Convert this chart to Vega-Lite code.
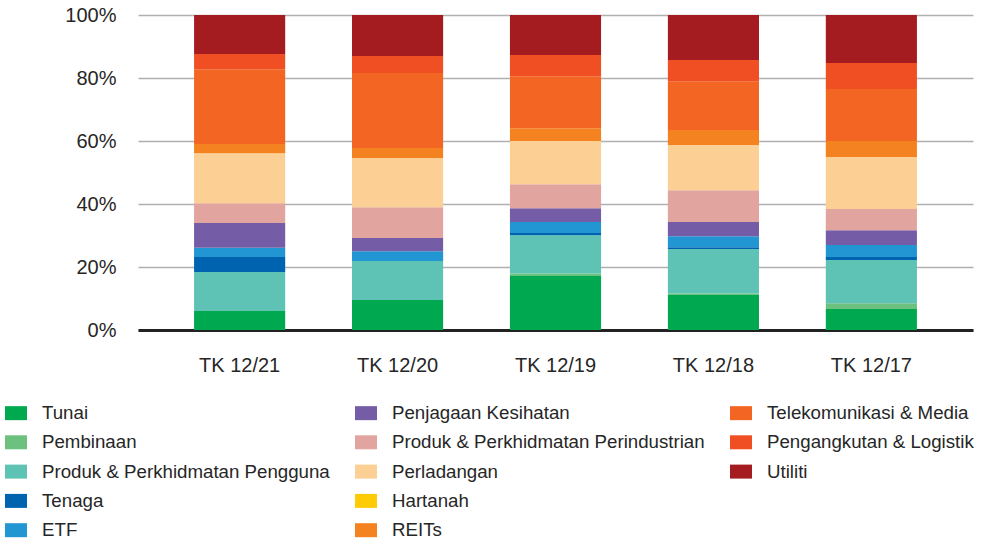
{
  "$schema": "https://vega.github.io/schema/vega-lite/v6.json",
  "width": 835,
  "height": 315,
  "autosize": {"type": "none"},
  "padding": {"left": 138, "top": 15, "right": 13, "bottom": 210},
  "background": "white",
  "config": {
    "font": "Liberation Sans",
    "view": {"stroke": null}
  },
  "data": {
    "values": [
      {"period": "TK 12/21", "sector": "Tunai", "k": 1, "value": 6.0},
      {"period": "TK 12/21", "sector": "Produk & Perkhidmatan Pengguna", "k": 3, "value": 12.4},
      {"period": "TK 12/21", "sector": "Tenaga", "k": 4, "value": 4.8},
      {"period": "TK 12/21", "sector": "ETF", "k": 5, "value": 2.9},
      {"period": "TK 12/21", "sector": "Penjagaan Kesihatan", "k": 6, "value": 7.9},
      {"period": "TK 12/21", "sector": "Produk & Perkhidmatan Perindustrian", "k": 7, "value": 6.3},
      {"period": "TK 12/21", "sector": "Perladangan", "k": 8, "value": 15.9},
      {"period": "TK 12/21", "sector": "REITs", "k": 10, "value": 2.9},
      {"period": "TK 12/21", "sector": "Telekomunikasi & Media", "k": 11, "value": 23.8},
      {"period": "TK 12/21", "sector": "Pengangkutan & Logistik", "k": 12, "value": 4.8},
      {"period": "TK 12/21", "sector": "Utiliti", "k": 13, "value": 12.4},

      {"period": "TK 12/20", "sector": "Tunai", "k": 1, "value": 9.5},
      {"period": "TK 12/20", "sector": "Produk & Perkhidmatan Pengguna", "k": 3, "value": 12.4},
      {"period": "TK 12/20", "sector": "ETF", "k": 5, "value": 3.1},
      {"period": "TK 12/20", "sector": "Penjagaan Kesihatan", "k": 6, "value": 4.2},
      {"period": "TK 12/20", "sector": "Produk & Perkhidmatan Perindustrian", "k": 7, "value": 9.8},
      {"period": "TK 12/20", "sector": "Perladangan", "k": 8, "value": 15.6},
      {"period": "TK 12/20", "sector": "REITs", "k": 10, "value": 3.2},
      {"period": "TK 12/20", "sector": "Telekomunikasi & Media", "k": 11, "value": 23.8},
      {"period": "TK 12/20", "sector": "Pengangkutan & Logistik", "k": 12, "value": 5.4},
      {"period": "TK 12/20", "sector": "Utiliti", "k": 13, "value": 13.0},

      {"period": "TK 12/19", "sector": "Tunai", "k": 1, "value": 17.1},
      {"period": "TK 12/19", "sector": "Pembinaan", "k": 2, "value": 0.85},
      {"period": "TK 12/19", "sector": "Produk & Perkhidmatan Pengguna", "k": 3, "value": 12.1},
      {"period": "TK 12/19", "sector": "Tenaga", "k": 4, "value": 0.7},
      {"period": "TK 12/19", "sector": "ETF", "k": 5, "value": 3.5},
      {"period": "TK 12/19", "sector": "Penjagaan Kesihatan", "k": 6, "value": 4.4},
      {"period": "TK 12/19", "sector": "Produk & Perkhidmatan Perindustrian", "k": 7, "value": 7.6},
      {"period": "TK 12/19", "sector": "Perladangan", "k": 8, "value": 13.7},
      {"period": "TK 12/19", "sector": "REITs", "k": 10, "value": 4.1},
      {"period": "TK 12/19", "sector": "Telekomunikasi & Media", "k": 11, "value": 16.5},
      {"period": "TK 12/19", "sector": "Pengangkutan & Logistik", "k": 12, "value": 6.7},
      {"period": "TK 12/19", "sector": "Utiliti", "k": 13, "value": 12.7},

      {"period": "TK 12/18", "sector": "Tunai", "k": 1, "value": 11.1},
      {"period": "TK 12/18", "sector": "Pembinaan", "k": 2, "value": 0.5},
      {"period": "TK 12/18", "sector": "Produk & Perkhidmatan Pengguna", "k": 3, "value": 14.1},
      {"period": "TK 12/18", "sector": "Tenaga", "k": 4, "value": 0.6},
      {"period": "TK 12/18", "sector": "ETF", "k": 5, "value": 3.5},
      {"period": "TK 12/18", "sector": "Penjagaan Kesihatan", "k": 6, "value": 4.5},
      {"period": "TK 12/18", "sector": "Produk & Perkhidmatan Perindustrian", "k": 7, "value": 10.1},
      {"period": "TK 12/18", "sector": "Perladangan", "k": 8, "value": 14.3},
      {"period": "TK 12/18", "sector": "REITs", "k": 10, "value": 4.8},
      {"period": "TK 12/18", "sector": "Telekomunikasi & Media", "k": 11, "value": 15.5},
      {"period": "TK 12/18", "sector": "Pengangkutan & Logistik", "k": 12, "value": 6.7},
      {"period": "TK 12/18", "sector": "Utiliti", "k": 13, "value": 14.3},

      {"period": "TK 12/17", "sector": "Tunai", "k": 1, "value": 6.7},
      {"period": "TK 12/17", "sector": "Pembinaan", "k": 2, "value": 1.8},
      {"period": "TK 12/17", "sector": "Produk & Perkhidmatan Pengguna", "k": 3, "value": 13.7},
      {"period": "TK 12/17", "sector": "Tenaga", "k": 4, "value": 1.0},
      {"period": "TK 12/17", "sector": "ETF", "k": 5, "value": 3.8},
      {"period": "TK 12/17", "sector": "Penjagaan Kesihatan", "k": 6, "value": 4.7},
      {"period": "TK 12/17", "sector": "Produk & Perkhidmatan Perindustrian", "k": 7, "value": 6.7},
      {"period": "TK 12/17", "sector": "Perladangan", "k": 8, "value": 16.5},
      {"period": "TK 12/17", "sector": "REITs", "k": 10, "value": 5.1},
      {"period": "TK 12/17", "sector": "Telekomunikasi & Media", "k": 11, "value": 16.5},
      {"period": "TK 12/17", "sector": "Pengangkutan & Logistik", "k": 12, "value": 8.3},
      {"period": "TK 12/17", "sector": "Utiliti", "k": 13, "value": 15.2}
    ]
  },
  "mark": {"type": "bar"},
  "encoding": {
    "x": {
      "field": "period",
      "type": "nominal",
      "sort": ["TK 12/21", "TK 12/20", "TK 12/19", "TK 12/18", "TK 12/17"],
      "scale": {"paddingInner": 0.423, "paddingOuter": 0.355},
      "axis": {
        "title": null,
        "labelAngle": 0,
        "labelFontSize": 20,
        "labelColor": "#262626",
        "labelPadding": 25,
        "ticks": false,
        "domain": true,
        "domainColor": "#222222",
        "domainWidth": 3
      }
    },
    "y": {
      "field": "value",
      "type": "quantitative",
      "stack": "normalize",
      "scale": {"domain": [0, 1], "nice": false},
      "axis": {
        "title": null,
        "format": ".0%",
        "values": [0, 0.2, 0.4, 0.6, 0.8, 1],
        "labelFontSize": 20,
        "labelColor": "#262626",
        "labelPadding": 22,
        "ticks": false,
        "domain": false,
        "gridColor": "#b0b0b0",
        "gridWidth": 1.5
      }
    },
    "order": {"field": "k", "type": "quantitative", "sort": "ascending"},
    "color": {
      "field": "sector",
      "type": "nominal",
      "scale": {
        "domain": [
          "Tunai", "Penjagaan Kesihatan", "Telekomunikasi & Media",
          "Pembinaan", "Produk & Perkhidmatan Perindustrian", "Pengangkutan & Logistik",
          "Produk & Perkhidmatan Pengguna", "Perladangan", "Utiliti",
          "Tenaga", "Hartanah", " ",
          "ETF", "REITs"
        ],
        "range": [
          "#00a94f", "#745ca6", "#f26522",
          "#6cc17e", "#e1a49e", "#f04e23",
          "#5ec3b5", "#fccf95", "#a51c20",
          "#0063b0", "#ffcb05", "transparent",
          "#2196d3", "#f58220"
        ]
      },
      "legend": {
        "title": null,
        "orient": "none",
        "legendX": -133,
        "legendY": 387,
        "direction": "horizontal",
        "columns": 3,
        "columnPadding": 25,
        "rowPadding": 8.3,
        "symbolType": "M-1,-0.636H1V0.636H-1Z",
        "symbolSize": 484,
        "symbolStrokeWidth": 0,
        "symbolOpacity": 1,
        "labelFontSize": 18.7,
        "labelColor": "#262626",
        "labelOffset": 15,
        "labelLimit": 400
      }
    }
  }
}
